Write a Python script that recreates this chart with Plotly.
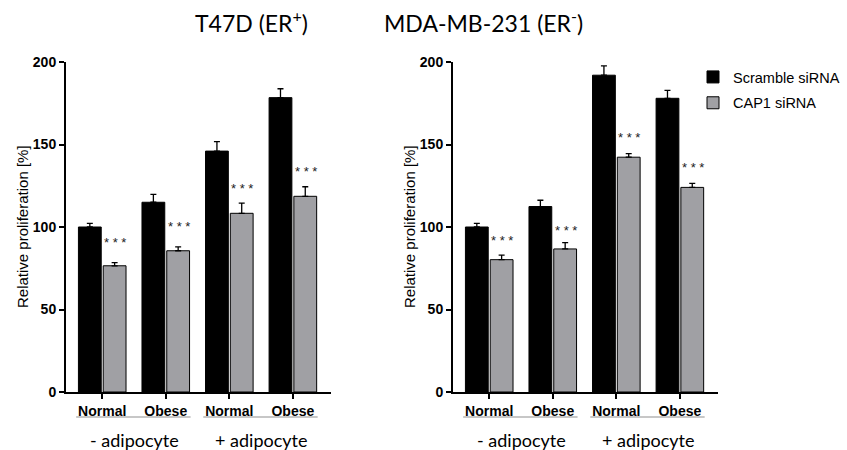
import plotly.graph_objects as go

# ---------------- data ----------------
cond_labels = ["Normal", "Obese", "Normal", "Obese"]
group_labels = ["- adipocyte", "+ adipocyte"]
series_names = ["Scramble siRNA", "CAP1 siRNA"]

t47d_scramble = [100.0, 115.0, 146.0, 178.4]
t47d_scramble_err = [2.2, 4.8, 5.7, 5.4]
t47d_cap1 = [76.5, 85.6, 108.3, 118.6]
t47d_cap1_err = [1.9, 2.3, 6.2, 5.8]
t47d_star_y = [92.7, 102.4, 125.0, 135.6]

mda_scramble = [100.0, 112.4, 192.0, 178.0]
mda_scramble_err = [2.2, 3.8, 5.7, 4.8]
mda_cap1 = [80.2, 86.7, 142.3, 124.0]
mda_cap1_err = [2.8, 3.8, 2.2, 2.4]
mda_star_y = [93.5, 99.6, 155.9, 137.8]

titles = ["T47D (ER<sup>+</sup>)", "MDA-MB-231 (ER<sup>-</sup>)"]
y_ticks = [0, 50, 100, 150, 200]
y_title = "Relative proliferation [%]"

# ---------------- styling ----------------
W, H = 847, 450
BLACK = "#000000"
GRAY = "#a0a0a4"
xpos = list(range(len(cond_labels)))

panels = [
    dict(scr=t47d_scramble, scr_e=t47d_scramble_err, cap=t47d_cap1, cap_e=t47d_cap1_err,
         stars=t47d_star_y, px=(66, 331), title=titles[0], tcx=193),
    dict(scr=mda_scramble, scr_e=mda_scramble_err, cap=mda_cap1, cap_e=mda_cap1_err,
         stars=mda_star_y, px=(453, 718), title=titles[1], tcx=585),
]

fig = go.Figure()
annotations = []
shapes = []
layout_axes = {}
y_top_px, y_bot_px = 62, 392

for k, p in enumerate(panels):
    sfx = "" if k == 0 else str(k + 1)
    xa, ya = "x" + sfx, "y" + sfx
    fig.add_trace(go.Bar(
        x=xpos, y=p["scr"], name=series_names[0], xaxis=xa, yaxis=ya,
        marker=dict(color=BLACK, line=dict(color=BLACK, width=1)),
        error_y=dict(type="data", array=p["scr_e"], arrayminus=[0] * 4, symmetric=False,
                     color=BLACK, thickness=1.3, width=3),
        showlegend=(k == 1), legendgroup="a"))
    fig.add_trace(go.Bar(
        x=xpos, y=p["cap"], name=series_names[1], xaxis=xa, yaxis=ya,
        marker=dict(color=GRAY, line=dict(color=BLACK, width=1)),
        error_y=dict(type="data", array=p["cap_e"], arrayminus=[0] * 4, symmetric=False,
                     color=BLACK, thickness=1.3, width=3),
        showlegend=(k == 1), legendgroup="b"))

    x0, x1 = p["px"]
    layout_axes["xaxis" + sfx] = dict(
        domain=[x0 / W, x1 / W], anchor=ya, range=[-0.57, 3.6], automargin=False,
        tickmode="array", tickvals=xpos, ticktext=["<b>%s</b>" % t for t in cond_labels],
        ticks="outside", ticklen=5, tickwidth=2, tickcolor=BLACK,
        showline=True, linewidth=2, linecolor=BLACK, showgrid=False, zeroline=False,
        tickfont=dict(family="Liberation Sans, Arial", size=14, color=BLACK),
        fixedrange=True)
    layout_axes["yaxis" + sfx] = dict(
        domain=[1 - y_bot_px / H, 1 - y_top_px / H], anchor=xa, range=[0, 200], automargin=False,
        tickmode="array", tickvals=y_ticks, ticktext=["<b>%d</b>" % v for v in y_ticks],
        ticks="outside", ticklen=5, tickwidth=2, tickcolor=BLACK,
        showline=True, linewidth=2, linecolor=BLACK, showgrid=False, zeroline=False,
        tickfont=dict(family="Liberation Sans, Arial", size=14, color=BLACK),
        fixedrange=True)

    # y-axis title
    annotations.append(dict(x=(x0 - 44) / W, y=1 - (y_top_px + y_bot_px) / 2 / H,
                            xref="paper", yref="paper", text=y_title, textangle=-90,
                            showarrow=False, xanchor="center", yanchor="middle",
                            font=dict(family="Liberation Sans, Arial", size=15, color=BLACK)))
    # significance stars above CAP1 bars
    for i, sy in enumerate(p["stars"]):
        annotations.append(dict(x=i, y=sy, xref=xa, yref=ya, text="* * *", showarrow=False,
                                xshift=13, yshift=-3,
                                font=dict(family="Liberation Sans, Arial", size=13, color="#222222")))
    # group underlines & labels
    for g, lab in enumerate(group_labels):
        shapes.append(dict(type="line", xref=xa, yref="paper", x0=2 * g - 0.41, x1=2 * g + 1.39,
                           y0=1 - 417 / H, y1=1 - 417 / H, line=dict(color="#b4b4b4", width=1.5)))
        annotations.append(dict(x=2 * g + 0.5, y=1 - 440 / H, xref=xa, yref="paper", text=lab,
                                showarrow=False, yanchor="middle",
                                font=dict(family="Lato, Open Sans", size=18, color=BLACK)))
    # panel title
    annotations.append(dict(x=p["tcx"] / W, y=1 - 22 / H, xref="paper", yref="paper",
                            text=p["title"], showarrow=False, yanchor="middle",
                            font=dict(family="Lato, Open Sans", size=23, color=BLACK)))

fig.update_layout(
    width=W, height=H, margin=dict(l=0, r=0, t=0, b=0, autoexpand=False),
    paper_bgcolor="white", plot_bgcolor="white",
    barmode="group", bargap=0.22, bargroupgap=0.08,
    showlegend=True,
    legend=dict(x=693 / W, y=1 - 61 / H, xanchor="left", yanchor="top",
                font=dict(family="Liberation Sans, Arial", size=14.5, color=BLACK),
                traceorder="grouped", tracegroupgap=4, bgcolor="rgba(0,0,0,0)"),
    annotations=annotations, shapes=shapes,
    **layout_axes,
)

fig.write_html("out.html", config={"displayModeBar": False},
               post_script="document.body.style.margin='0';document.body.style.padding='0';"
                           "document.documentElement.style.overflow='hidden';")
